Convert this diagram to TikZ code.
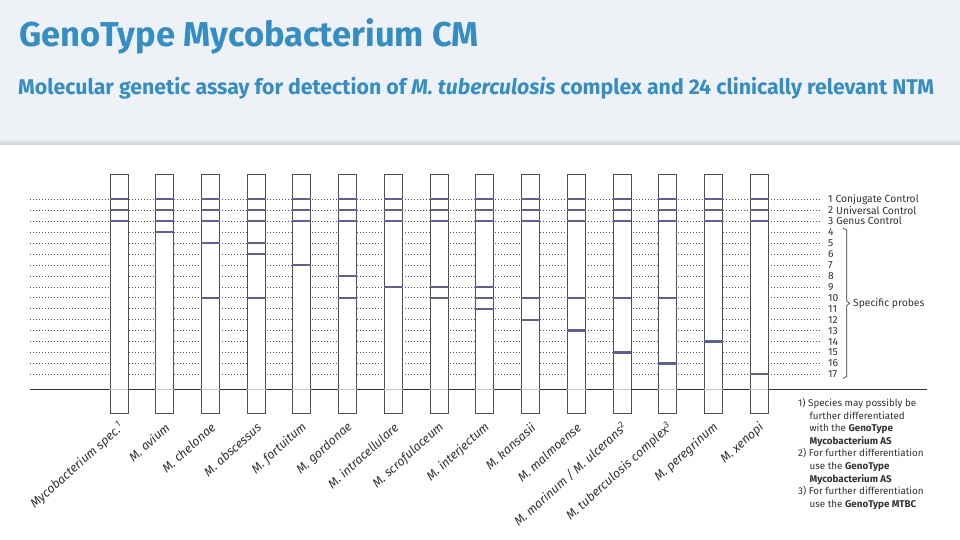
\documentclass[tikz,border=0pt]{standalone}
\usepackage{fontspec}
\setmainfont{Fira Sans}
\usetikzlibrary{positioning}

\definecolor{genoblue}{RGB}{52,142,196}
\definecolor{bandblue}{RGB}{96,96,152}
\definecolor{stripgray}{RGB}{80,80,80}
\definecolor{headbg}{RGB}{238,242,247}
\definecolor{txtgray}{RGB}{50,50,50}

\begin{document}
\begin{tikzpicture}[x=1pt,y=-1pt,
    strip/.style={draw=stripgray,fill=white,line width=0.8pt,minimum width=18pt,minimum height=239pt,inner sep=0pt},
    band/.style={bandblue,line width=2.2pt},
    probe/.style={stripgray,line width=0.6pt,dash pattern=on 0.9pt off 2.1pt,shorten >=6pt},
    rowlabel/.style={anchor=west,inner sep=0pt,font=\fontsize{10.3}{11}\selectfont,text=txtgray},
    species/.style={anchor=east,rotate=42,inner sep=0pt,font=\fontsize{12.4}{14}\selectfont\itshape,text=txtgray}]
    % page and header band
    \useasboundingbox (0,0) rectangle (960,540);
    \fill[white] (0,0) rectangle (960,540);
    \fill[headbg] (0,0) rectangle (960,145);
    \shade[top color=headbg,bottom color=gray!35] (0,138) rectangle (960,145);
    \node[anchor=base west,inner sep=0pt,text=genoblue] (title) at (19,47)
        {\fontsize{34.5}{36}\selectfont\bfseries GenoType Mycobacterium CM};
    \node[anchor=base west,inner sep=0pt,text=genoblue] (subtitle) at (18,95)
        {\fontsize{21.3}{22}\selectfont\bfseries Molecular genetic assay for detection of \textit{M. tuberculosis} complex and 24 clinically relevant NTM};

    % probe rows and their labels
    \foreach \j in {1,...,17} {
        \coordinate (l\j) at (30,{199.3+(\j-1)*10.94});
        \node[rowlabel] (r\j) at (828,{199.3+(\j-1)*10.94}) {\j};
    }
    \node[rowlabel,right=2.5pt of r1.east,anchor=west] (c1) {Conjugate Control};
    \node[rowlabel,right=2.5pt of r2.east,anchor=west] (c2) {Universal Control};
    \node[rowlabel,right=2.5pt of r3.east,anchor=west] (c3) {Genus Control};
    \foreach \j in {1,...,17}
        \draw[probe] (l\j) -- (r\j.west);

    % base line
    \coordinate (b0) at (30,389);
    \coordinate (b1) at (927,389);
    \draw[black!80,line width=0.8pt] (b0) -- (b1);

    % strips
    \foreach \n/\name/\bands in {
        1/{Mycobacterium spec.\textsuperscript{1}}/{1,2,3},
        2/{M. avium}/{1,2,3,4},
        3/{M. chelonae}/{1,2,3,5,10},
        4/{M. abscessus}/{1,2,3,5,6,10},
        5/{M. fortuitum}/{1,2,3,7},
        6/{M. gordonae}/{1,2,3,8,10},
        7/{M. intracellulare}/{1,2,3,9},
        8/{M. scrofulaceum}/{1,2,3,9,10},
        9/{M. interjectum}/{1,2,3,9,10,11},
        10/{M. kansasii}/{1,2,3,10,12},
        11/{M. malmoense}/{1,2,3,10,13},
        12/{M. marinum / M. ulcerans\textsuperscript{2}}/{1,2,3,10,15},
        13/{M. tuberculosis complex\textsuperscript{3}}/{1,2,3,10,16},
        14/{M. peregrinum}/{1,2,3,14},
        15/{M. xenopi}/{1,2,3,17}} {
        \node[strip] (s\n) at ({119+(\n-1)*45.72},293.5) {};
        \draw[gray!45,line width=0.8pt] (s\n.west |- b0) -- (s\n.east |- b0);
        \foreach \b in \bands
            \draw[band] (s\n.west |- r\b.west) -- (s\n.east |- r\b.west);
        \node[species] (t\n) at ([xshift=3pt,yshift=-12pt]s\n.south) {\name};
    }

    % bracket for the specific probes
    \draw[txtgray,line width=0.6pt] (842.7,228) -- (846.7,230) -- (846.7,301)
        -- (849.5,303.3) -- (846.7,305.6) -- (846.7,376.5) -- (842.7,378.5);
    \node[rowlabel] (spec) at (853,303.3) {Specific probes};

    % footnotes
    \node[anchor=north west,inner sep=0pt,align=left,text=txtgray,
          font=\fontsize{9.8}{12.6}\selectfont] (notes) at (798,398)
        {1)~Species may possibly be\\
         \hspace*{11.5pt}further differentiated\\
         \hspace*{11.5pt}with the \textbf{GenoType}\\
         \hspace*{11.5pt}\textbf{Mycobacterium AS}\\
         2)~For further differentiation\\
         \hspace*{11.5pt}use the \textbf{GenoType}\\
         \hspace*{11.5pt}\textbf{Mycobacterium AS}\\
         3)~For further differentiation\\
         \hspace*{11.5pt}use the \textbf{GenoType MTBC}};
\end{tikzpicture}
\end{document}
